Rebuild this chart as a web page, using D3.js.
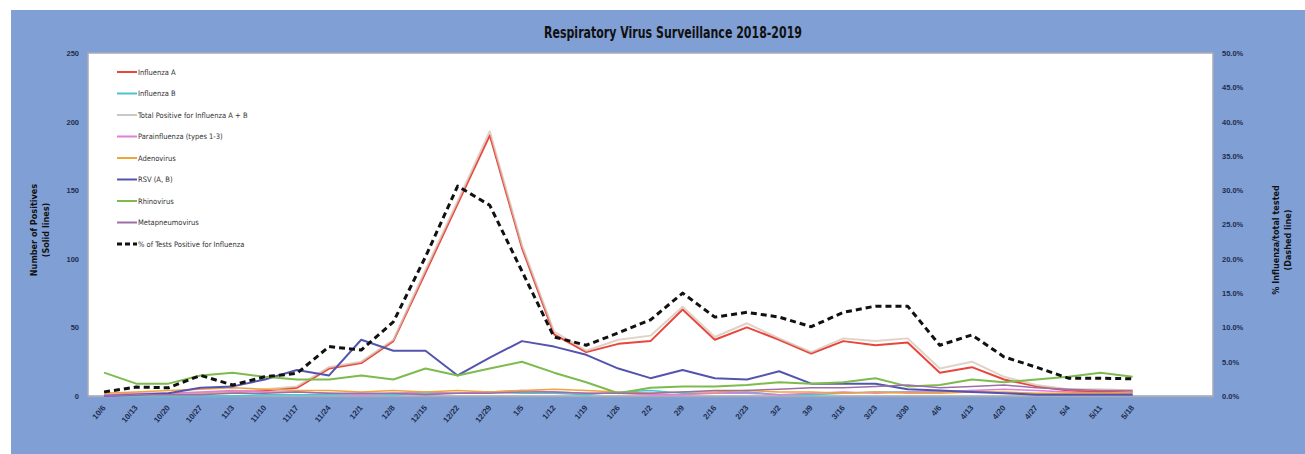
<!DOCTYPE html>
<html>
<head>
<meta charset="utf-8">
<script src="https://cdn.jsdelivr.net/npm/d3@7"></script>
<style>
  body { margin: 0; background: #fff; }
  svg { display: block; font-family: "Liberation Sans Narrow", "DejaVu Sans Condensed", "Liberation Sans", sans-serif; }
</style>
</head>
<body>
<svg id="chart" width="1305" height="454"></svg>
<script>
var weeks = ["10/6", "10/13", "10/20", "10/27", "11/3", "11/10", "11/17", "11/24", "12/1", "12/8",
  "12/15", "12/22", "12/29", "1/5", "1/12", "1/19", "1/26", "2/2", "2/9", "2/16", "2/23", "3/2",
  "3/9", "3/16", "3/23", "3/30", "4/6", "4/13", "4/20", "4/27", "5/4", "5/11", "5/18"];
var slotCount = 35; // category axis keeps two empty slots on the right

var influenzaA = [0, 1, 1, 2, 3, 4, 6, 20, 24, 40, 90, 140, 190, 108, 45, 32, 38, 40, 63, 41, 50, 41, 31, 40, 37, 39, 17, 21, 12, 7, 4, 3, 3];
var influenzaB = [0, 0, 0, 0, 0, 1, 1, 1, 1, 1, 2, 2, 3, 2, 2, 1, 3, 4, 2, 2, 3, 1, 1, 2, 3, 3, 3, 4, 2, 1, 1, 2, 1];
var totalFlu = [0, 1, 1, 2, 3, 5, 7, 21, 25, 41, 92, 142, 193, 110, 47, 33, 41, 44, 65, 43, 53, 42, 32, 42, 40, 42, 20, 25, 14, 8, 5, 5, 4];
var parainfluenza = [1, 2, 2, 3, 4, 3, 3, 2, 1, 2, 3, 2, 3, 4, 3, 2, 2, 1, 1, 2, 2, 1, 2, 3, 2, 3, 3, 4, 5, 4, 3, 2, 2];
var adenovirus = [2, 3, 4, 5, 6, 5, 4, 4, 3, 4, 3, 4, 3, 4, 5, 4, 3, 2, 3, 3, 4, 3, 3, 2, 3, 2, 2, 3, 3, 2, 2, 2, 3];
var rsv = [0, 1, 2, 6, 7, 12, 19, 15, 41, 33, 33, 15, 28, 40, 36, 30, 20, 13, 19, 13, 12, 18, 9, 9, 9, 5, 4, 3, 2, 1, 1, 1, 1];
var rhinovirus = [17, 9, 9, 15, 17, 14, 12, 12, 15, 12, 20, 15, 20, 25, 17, 10, 2, 6, 7, 7, 8, 10, 9, 10, 13, 7, 8, 12, 10, 12, 14, 17, 14];
var metapneumovirus = [0, 1, 1, 1, 2, 2, 3, 2, 2, 2, 1, 2, 2, 3, 3, 2, 2, 2, 3, 4, 4, 5, 6, 6, 7, 8, 6, 7, 8, 6, 5, 4, 4];
var pctPositive = [0.6, 1.3, 1.2, 3.0, 1.6, 2.8, 3.3, 7.2, 6.7, 10.8, 20.3, 30.6, 27.8, 18.2, 8.6, 7.4, 9.2, 11.1, 15.0, 11.5, 12.2, 11.5, 10.1, 12.2, 13.1, 13.1, 7.4, 8.9, 5.7, 4.2, 2.6, 2.6, 2.5];

var leftTicks = [0, 50, 100, 150, 200, 250];
var rightTicks = [0, 5, 10, 15, 20, 25, 30, 35, 40, 45, 50];

var series = [
  { name: "Influenza A", values: influenzaA, color: "#e8463c", width: 2 },
  { name: "Influenza B", values: influenzaB, color: "#4cc3cf", width: 1.5 },
  { name: "Total Positive for Influenza A + B", values: totalFlu, color: "rgba(215,195,180,0.75)", width: 2 },
  { name: "Parainfluenza (types 1-3)", values: parainfluenza, color: "#de7fd8", width: 1.5 },
  { name: "Adenovirus", values: adenovirus, color: "#f0a43a", width: 1.5 },
  { name: "RSV (A, B)", values: rsv, color: "#5355ad", width: 2 },
  { name: "Rhinovirus", values: rhinovirus, color: "#7dbb4e", width: 2 },
  { name: "Metapneumovirus", values: metapneumovirus, color: "#9c6fa6", width: 1.5 }
];

var svg = d3.select("#chart");
var plot = { left: 88, right: 1213, top: 53, bottom: 396 };
var navy = "#1f2d4d";

// blue chart panel
svg.append("rect")
  .attr("x", 11).attr("y", 10)
  .attr("width", 1294).attr("height", 444)
  .attr("fill", "#809fd5");

svg.append("rect")
  .attr("x", plot.left).attr("y", plot.top)
  .attr("width", plot.right - plot.left).attr("height", plot.bottom - plot.top)
  .attr("fill", "#fff")
  .attr("stroke", "#a7acb6")
  .attr("stroke-width", 1.5);

var x = d3.scaleBand()
  .domain(d3.range(slotCount))
  .range([plot.left, plot.right]);

var xPos = function (i) { return x(i) + x.bandwidth() / 2; };

var yLeft = d3.scaleLinear().domain([0, 250]).range([plot.bottom, plot.top]);
var yRight = d3.scaleLinear().domain([0, 50]).range([plot.bottom, plot.top]);

// title
svg.append("text")
  .attr("x", 673).attr("y", 38)
  .attr("text-anchor", "middle")
  .attr("font-size", 15)
  .attr("font-weight", "bold")
  .attr("fill", "#111")
  .attr("textLength", 258)
  .attr("lengthAdjust", "spacingAndGlyphs")
  .text("Respiratory Virus Surveillance 2018-2019");

// axes
var leftAxis = svg.append("g")
  .attr("transform", "translate(" + plot.left + ",0)")
  .call(d3.axisLeft(yLeft).tickValues(leftTicks).tickSize(0).tickPadding(9));

var rightAxis = svg.append("g")
  .attr("transform", "translate(" + plot.right + ",0)")
  .call(d3.axisRight(yRight).tickValues(rightTicks).tickSize(0).tickPadding(9)
    .tickFormat(function (d) { return d.toFixed(1) + "%"; }));

[leftAxis, rightAxis].forEach(function (g) {
  g.select(".domain").remove();
  g.selectAll("text")
    .attr("font-size", 7.5)
    .attr("font-weight", "bold")
    .attr("fill", navy)
    .attr("font-family", "inherit");
});

var xAxis = svg.append("g")
  .attr("transform", "translate(0," + plot.bottom + ")")
  .call(d3.axisBottom(x).tickSize(0).tickPadding(0)
    .tickFormat(function (i) { return weeks[i] || ""; }));

xAxis.select(".domain").attr("stroke", "#a7acb6").attr("stroke-width", 1.5);
xAxis.selectAll("text")
  .attr("font-size", 8)
  .attr("font-weight", "bold")
  .attr("fill", navy)
  .attr("font-family", "inherit")
  .attr("text-anchor", "end")
  .attr("dy", null)
  .attr("transform", "translate(2,12) rotate(-50)");

// axis titles
function axisTitle(cx, cy, lines) {
  var t = svg.append("text")
    .attr("transform", "translate(" + cx + "," + cy + ") rotate(-90)")
    .attr("text-anchor", "middle")
    .attr("font-size", 9)
    .attr("font-weight", "bold")
    .attr("fill", "#111");
  lines.forEach(function (s, k) {
    t.append("tspan").attr("x", 0).attr("dy", k === 0 ? 0 : 12).text(s);
  });
}
axisTitle(37, 230, ["Number of Positives", "(Solid lines)"]);
axisTitle(1279, 240, ["% Influenza/total tested", "(Dashed line)"]);

// solid series
var line = d3.line()
  .x(function (d, i) { return xPos(i); })
  .y(function (d) { return yLeft(d); });

svg.append("g").selectAll("path")
  .data(series)
  .enter().append("path")
  .attr("d", function (s) { return line(s.values); })
  .attr("fill", "none")
  .attr("stroke", function (s) { return s.color; })
  .attr("stroke-width", function (s) { return s.width; })
  .attr("stroke-linejoin", "round");

// dashed % positive
var pctLine = d3.line()
  .x(function (d, i) { return xPos(i); })
  .y(function (d) { return yRight(d); });

svg.append("path")
  .attr("d", pctLine(pctPositive))
  .attr("fill", "none")
  .attr("stroke", "#111")
  .attr("stroke-width", 3)
  .attr("stroke-dasharray", "6,4")
  .attr("stroke-linejoin", "round");

// legend
var legendItems = series.map(function (s) { return { name: s.name, color: s.color, dashed: false }; })
  .concat([{ name: "% of Tests Positive for Influenza", color: "#111", dashed: true }]);

var legend = svg.append("g").selectAll("g")
  .data(legendItems)
  .enter().append("g")
  .attr("transform", function (d, i) { return "translate(117," + (72 + i * 21.5) + ")"; });

legend.append("line")
  .attr("x1", 0).attr("x2", 20)
  .attr("stroke", function (d) { return d.dashed ? "#111" : d.color.replace("215,195,180,0.75", "200,200,200,1"); })
  .attr("stroke-width", function (d) { return d.dashed ? 3 : 2; })
  .attr("stroke-dasharray", function (d) { return d.dashed ? "5,3" : null; });

legend.append("text")
  .attr("x", 21).attr("dy", "0.35em")
  .attr("font-size", 7.5)
  .attr("fill", "#333")
  .text(function (d) { return d.name; });
</script>
</body>
</html>
